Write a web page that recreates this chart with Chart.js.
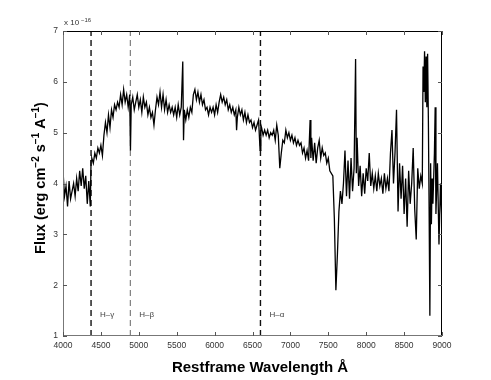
<!DOCTYPE html>
<html>
<head>
<meta charset="utf-8">
<script src="https://cdn.jsdelivr.net/npm/chart.js@4.4.1/dist/chart.umd.min.js"></script>
<style>
  html, body { margin: 0; padding: 0; background: #fff; }
  canvas { display: block; }
</style>
</head>
<body>
<canvas id="spec" width="491" height="380"></canvas>
<script>
// Spektrum (Fluss in Einheiten von 1e-16)
var wavelength = [
  4000, 4020, 4040, 4060, 4080, 4100, 4120, 4140, 4160, 4180, 4200, 4220, 4240, 4260, 4280, 4300, 4320, 4340, 4360, 4370,
  4380, 4400, 4420, 4440, 4460, 4480, 4500, 4520, 4540, 4560, 4580, 4600, 4620, 4640, 4660, 4680, 4700, 4720, 4740, 4760,
  4780, 4800, 4820, 4840, 4860, 4880, 4890, 4900, 4920, 4940, 4960, 4980, 5000, 5020, 5040, 5060, 5080, 5100, 5120, 5140,
  5160, 5180, 5200, 5220, 5240, 5260, 5280, 5300, 5320, 5340, 5360, 5380, 5400, 5420, 5440, 5460, 5480, 5500, 5520, 5540,
  5560, 5580, 5590, 5600, 5620, 5640, 5660, 5680, 5700, 5720, 5740, 5760, 5780, 5800, 5820, 5840, 5860, 5880, 5900, 5920,
  5940, 5960, 5980, 6000, 6020, 6040, 6060, 6080, 6100, 6120, 6140, 6160, 6180, 6200, 6220, 6240, 6260, 6280, 6290, 6300,
  6320, 6340, 6360, 6380, 6400, 6420, 6440, 6460, 6480, 6500, 6520, 6540, 6560, 6580, 6600, 6610, 6620, 6640, 6660, 6680,
  6700, 6720, 6740, 6760, 6780, 6800, 6820, 6840, 6860, 6880, 6900, 6920, 6940, 6960, 6980, 7000, 7020, 7040, 7060, 7080,
  7100, 7120, 7140, 7160, 7180, 7200, 7220, 7240, 7260, 7270, 7280, 7300, 7320, 7340, 7360, 7380, 7400, 7420, 7440, 7460,
  7480, 7500, 7520, 7560, 7580, 7600, 7620, 7640, 7660, 7680, 7700, 7720, 7740, 7760, 7780, 7800, 7820, 7840, 7860, 7870,
  7880, 7900, 7920, 7940, 7960, 7980, 8000, 8020, 8040, 8060, 8080, 8100, 8120, 8140, 8160, 8180, 8200, 8220, 8240, 8260,
  8280, 8300, 8320, 8340, 8360, 8380, 8400, 8420, 8440, 8460, 8480, 8500, 8520, 8540, 8560, 8580, 8600, 8620, 8640, 8660,
  8680, 8700, 8720, 8740, 8750, 8760, 8770, 8780, 8790, 8800, 8810, 8820, 8830, 8840, 8850, 8860, 8870, 8880, 8900, 8910,
  8920, 8940, 8960, 8980, 9000
];
var flux = [
  4.25, 3.75, 3.95, 3.55, 4.05, 3.7, 3.85, 4.0, 3.75, 4.1, 3.85, 4.25, 3.95, 4.3, 3.9, 4.15, 3.6, 4.05, 3.55, 4.45,
  4.5, 4.4, 4.6, 4.5, 4.7, 4.6, 4.75, 4.55, 4.95, 5.2, 5.0, 5.35, 5.1, 5.45, 5.3, 5.55, 5.45, 5.6, 5.5, 5.75,
  5.55, 5.85, 5.6, 5.75, 5.5, 5.75, 4.65, 5.55, 5.7, 5.45, 5.6, 5.75, 5.5, 5.65, 5.4, 5.7, 5.5, 5.6, 5.35, 5.5,
  5.3, 5.4, 5.15, 5.45, 5.7, 5.55, 5.8, 5.5, 5.75, 5.45, 5.65, 5.4, 5.55, 5.4, 5.5, 5.35, 5.5, 5.3, 5.55, 5.35,
  5.5, 6.4, 4.85, 5.45, 5.25, 5.45, 5.3, 5.5, 5.4, 5.75, 5.85, 5.65, 5.8, 5.6, 5.75, 5.55, 5.65, 5.45, 5.5, 5.35,
  5.5, 5.4, 5.5, 5.35, 5.55, 5.4, 5.6, 5.75, 5.6, 5.7, 5.55, 5.65, 5.45, 5.55, 5.4, 5.5, 5.35, 5.45, 5.05, 5.3,
  5.5, 5.35, 5.45, 5.25, 5.4, 5.2, 5.35, 5.2, 5.25, 5.1, 5.2, 5.05, 5.15, 5.25, 4.65, 5.15, 5.1, 4.95, 5.05, 4.95,
  5.05, 4.9, 5.0, 4.95, 5.05, 4.85, 5.15, 4.95, 4.3, 4.6, 4.85, 4.8, 5.05, 4.9, 5.0, 4.85, 4.95, 4.8, 4.9, 4.75,
  4.85, 4.75, 4.8, 4.6, 4.7, 4.5, 4.65, 4.45, 5.25, 4.5, 4.9, 4.45, 4.8, 4.4, 4.7, 4.85, 4.5, 4.7, 4.55, 4.6,
  4.4, 4.5, 4.25, 4.15, 3.3, 1.9, 2.6, 3.45, 3.85, 3.6, 4.0, 4.65, 3.75, 4.45, 3.7, 4.5, 3.85, 4.3, 6.45, 4.2,
  4.9, 3.95, 4.35, 3.75, 4.2, 3.8, 4.3, 4.05, 4.6, 3.95, 4.2, 3.9, 4.15, 3.85, 4.2, 3.95, 4.1, 3.8, 4.2, 3.9,
  4.1, 3.85, 4.6, 5.05, 4.0, 4.6, 5.45, 3.45, 4.4, 3.7, 4.35, 3.4, 4.1, 3.15, 4.25, 3.6, 4.0, 4.7, 3.5, 2.9,
  4.3, 3.9, 4.15, 4.0, 6.3, 5.8, 6.6, 5.6, 6.5, 5.5, 6.55, 5.3, 3.5, 1.4, 4.4, 3.2, 4.1, 3.6, 4.6, 5.5,
  3.4, 4.4, 2.8, 4.0, 3.2
];

// Balmer-Linien
var lineNames = ['H\u2013\u03b3', 'H\u2013\u03b2', 'H\u2013\u03b1'];
var linePos = [4370, 4888, 6605];
var lineColors = ['#111', '#666', '#111'];

var xTicks = [4000, 4500, 5000, 5500, 6000, 6500, 7000, 7500, 8000, 8500, 9000];
var yTicks = [1, 2, 3, 4, 5, 6, 7];

var FONT = '"Liberation Sans", Arial, sans-serif';

var specPoints = wavelength.map(function (w, i) { return { x: w, y: flux[i] }; });

var datasets = [{
  data: specPoints,
  borderColor: '#000',
  borderWidth: 1.3,
  pointRadius: 0,
  tension: 0
}];
linePos.forEach(function (p, i) {
  datasets.push({
    data: [{ x: p, y: yTicks[0] }, { x: p, y: yTicks[yTicks.length - 1] }],
    borderColor: lineColors[i],
    borderWidth: i === 1 ? 1 : 1.4,
    borderDash: [6, 4],
    pointRadius: 0
  });
});

// Text mit Hochstellungen: [text, hochgestellt?]
function drawParts(c, parts, x, y, size, supSize) {
  var w = 0;
  parts.forEach(function (p) {
    c.font = 'bold ' + (p[1] ? supSize : size) + 'px ' + FONT;
    w += c.measureText(p[0]).width;
  });
  var cx = x - w / 2;
  parts.forEach(function (p) {
    c.font = 'bold ' + (p[1] ? supSize : size) + 'px ' + FONT;
    c.fillText(p[0], cx, p[1] ? y - size * 0.4 : y);
    cx += c.measureText(p[0]).width;
  });
}

// Rahmen, Ticks nach innen, Beschriftungen
var frame = {
  id: 'frame',
  afterDraw: function (chart) {
    var c = chart.ctx, a = chart.chartArea;
    var xs = chart.scales.x, ys = chart.scales.y;
    c.save();
    c.lineWidth = 1;
    c.strokeStyle = '#000';
    c.beginPath();
    c.moveTo(a.left, a.top + 0.5); c.lineTo(a.right, a.top + 0.5);
    c.moveTo(a.right - 0.5, a.top); c.lineTo(a.right - 0.5, a.bottom);
    c.stroke();
    c.strokeStyle = '#777';
    c.beginPath();
    c.moveTo(a.left + 0.5, a.top); c.lineTo(a.left + 0.5, a.bottom);
    c.moveTo(a.left, a.bottom - 0.5); c.lineTo(a.right, a.bottom - 0.5);
    c.stroke();
    c.strokeStyle = '#555';
    c.beginPath();
    xTicks.forEach(function (t) {
      var px = Math.round(xs.getPixelForValue(t)) + 0.5;
      c.moveTo(px, a.bottom); c.lineTo(px, a.bottom - 4);
      c.moveTo(px, a.top); c.lineTo(px, a.top + 4);
    });
    yTicks.forEach(function (t) {
      var py = Math.round(ys.getPixelForValue(t)) + 0.5;
      c.moveTo(a.left, py); c.lineTo(a.left + 4, py);
      c.moveTo(a.right, py); c.lineTo(a.right - 4, py);
    });
    c.stroke();

    c.fillStyle = '#444';
    c.font = '8px ' + FONT;
    c.textBaseline = 'middle';
    c.textAlign = 'left';
    lineNames.forEach(function (n, i) {
      c.fillText(n, xs.getPixelForValue(linePos[i]) + 9, ys.getPixelForValue(1.41));
    });
    c.fillStyle = '#333';
    c.fillText('x 10', a.left + 1, a.top - 8);
    c.font = '6px ' + FONT;
    c.fillText('\u221216', a.left + 18, a.top - 11);

    // Achsentitel
    c.fillStyle = '#000';
    c.textBaseline = 'alphabetic';
    c.font = 'bold 15px ' + FONT;
    c.textAlign = 'center';
    c.fillText('Restframe Wavelength \u00c5', 260, 372);

    c.textAlign = 'left';
    c.translate(45, 178);
    c.rotate(-Math.PI / 2);
    drawParts(c, [['Flux (erg cm', 0], ['\u22122', 1], [' s', 0], ['\u22121', 1], [' A', 0], ['\u22121', 1], [')', 0]], 0, 0, 14.5, 10);
    c.restore();
  }
};

var tickFont = { size: 8.5, family: FONT };

var ctx = document.getElementById('spec').getContext('2d');
var chart = new Chart(ctx, {
  type: 'line',
  data: { datasets: datasets },
  options: {
    responsive: false,
    animation: false,
    layout: { padding: { top: 31, right: 49, left: 0, bottom: 0 } },
    plugins: { legend: { display: false }, tooltip: { enabled: false } },
    scales: {
      x: {
        type: 'linear',
        min: 4000, max: 9000,
        grid: { display: false, drawTicks: false },
        border: { display: false },
        afterFit: function (s) { s.height = 44; },
        afterBuildTicks: function (s) { s.ticks = xTicks.map(function (v) { return { value: v }; }); },
        ticks: {
          padding: 5, color: '#333', font: tickFont, maxRotation: 0, autoSkip: false,
          callback: function (v) { return String(v); }
        }
      },
      y: {
        min: 1, max: 7,
        grid: { display: false, drawTicks: false },
        border: { display: false },
        afterFit: function (s) { s.width = 63; },
        afterBuildTicks: function (s) { s.ticks = yTicks.map(function (v) { return { value: v }; }); },
        ticks: { padding: 5, color: '#333', font: tickFont }
      }
    }
  },
  plugins: [frame]
});
</script>
</body>
</html>
